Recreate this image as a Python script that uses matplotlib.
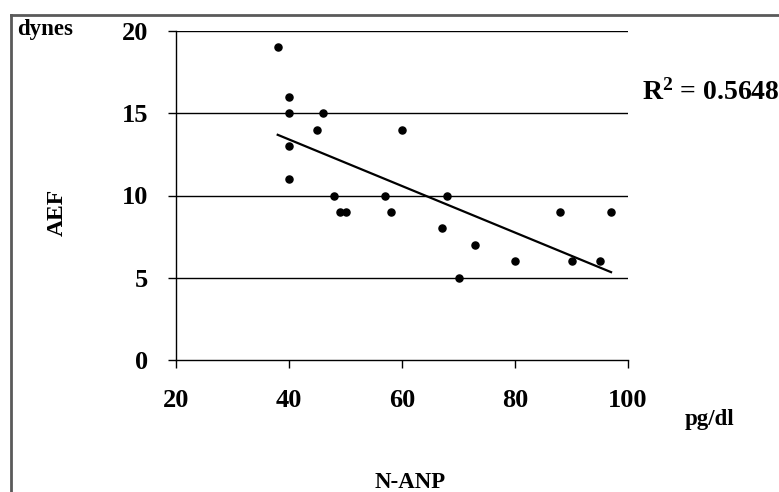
import matplotlib.pyplot as plt
import numpy as np

plt.rcParams['font.family'] = ['Liberation Serif', 'DejaVu Serif']
plt.rcParams['font.weight'] = 'bold'
plt.rcParams['mathtext.fontset'] = 'custom'
plt.rcParams['mathtext.rm'] = 'Liberation Serif:bold'
plt.rcParams['mathtext.bf'] = 'Liberation Serif:bold'
plt.rcParams['mathtext.it'] = 'Liberation Serif:bold'

# data
n_anp = [38, 40, 40, 40, 40, 45, 46, 48, 49, 50, 57, 58, 60,
         67, 68, 70, 73, 80, 88, 90, 95, 97]
aef = [19, 16, 15, 13, 11, 14, 15, 10, 9, 9, 10, 9, 14,
       8, 10, 5, 7, 6, 9, 6, 6, 9]
x_ticks = [20, 40, 60, 80, 100]
y_ticks = [0, 5, 10, 15, 20]
r2_text = "0.5648"

fig = plt.figure(figsize=(7.79, 4.92), dpi=100)
ax = fig.add_axes([176/779, 1 - 360/492, 452/779, 329/492])

# horizontal gridlines
for yv in y_ticks[1:]:
    ax.axhline(yv, color='black', lw=1.0, zorder=1)

ax.scatter(n_anp, aef, s=26, color='black', zorder=3)

# linear trend line
x = np.array(n_anp, dtype=float)
y = np.array(aef, dtype=float)
m, b = np.polyfit(x, y, 1)
xs = np.array([x.min(), x.max()])
ax.plot(xs, m * xs + b, color='black', lw=1.6, zorder=2)

ax.set_xlim(20, 100)
ax.set_ylim(0, 20)
ax.set_xticks(x_ticks)
ax.set_yticks(y_ticks)
for s in ['top', 'right']:
    ax.spines[s].set_visible(False)
ax.spines['left'].set_linewidth(1.0)
ax.spines['bottom'].set_linewidth(1.0)
ax.tick_params(axis='both', direction='out', length=6, width=1.0,
               labelsize=19)
ax.tick_params(axis='x', pad=15)
ax.tick_params(axis='y', pad=14)
for lab in ax.get_xticklabels() + ax.get_yticklabels():
    lab.set_fontweight('bold')

# text around the plot
fig.text(17/779, 1 - 30/492, "dynes", fontsize=16.5, fontweight='bold',
         ha='left', va='center')
fig.text(57/779, 1 - 212/492, "AEF", fontsize=17, fontweight='bold',
         rotation=90, ha='center', va='center')
fig.text(642/779, 1 - 92/492, r"R$^{2}$ = " + r2_text, fontsize=20,
         fontweight='bold', ha='left', va='center')
fig.text(710/779, 1 - 419/492, "pg/dl", fontsize=16.5, fontweight='bold',
         ha='center', va='center')
fig.text(410/779, 1 - 483/492, "N-ANP", fontsize=16.5, fontweight='bold',
         ha='center', va='center')

# frame around the whole chart (top and left visible)
fig.add_artist(plt.Line2D([11/779, 1], [1 - 15/492, 1 - 15/492],
                          transform=fig.transFigure, color='#5a5a5a', lw=2))
fig.add_artist(plt.Line2D([11/779, 11/779], [0, 1 - 15/492],
                          transform=fig.transFigure, color='#5a5a5a', lw=2))

fig.savefig('out.png', dpi=100)
